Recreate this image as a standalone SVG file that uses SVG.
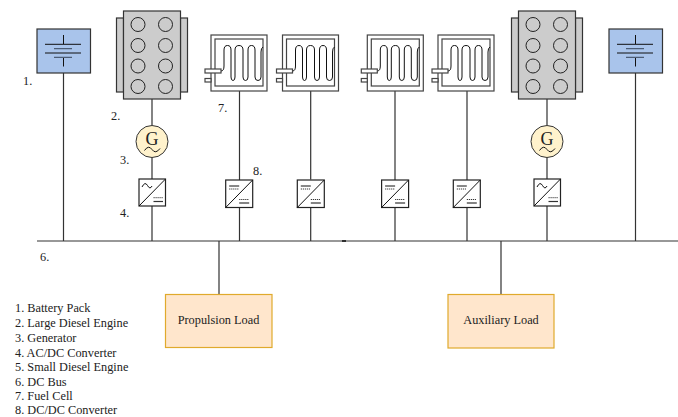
<svg xmlns="http://www.w3.org/2000/svg" width="678" height="417" viewBox="0 0 678 417">
<style>
text{font-family:"Liberation Serif","Times New Roman",serif;font-size:12.300px;fill:#222}
.c{text-anchor:middle}
.l{fill:none;stroke:#333;stroke-width:1.200}
.s{fill:none;stroke:#111;stroke-width:1}
.e{fill:#ccc;stroke:#333;stroke-width:1.200}
.h{fill:none;stroke:#222;stroke-width:1}
.b{fill:#a9c4eb;stroke:#333;stroke-width:1.200}
.g{fill:#fff2cc;stroke:#333;stroke-width:1}
.w{fill:#fff;stroke:#222;stroke-width:1.200}
.f{fill:#fff;stroke:#444;stroke-width:1.200}
.p{fill:#ffe6cc;stroke:#e0aa2c;stroke-width:1.200}
.d{fill:none;stroke:#333;stroke-width:1;stroke-dasharray:1.200 .8}
</style>
<defs>
<g id="battery">
<rect class="b" x="0" y="0" width="53.500" height="44"/>
<path class="s" d="M26.500 6V15M8 15.300H44M8 24H44M26.500 28.300V37.500"/>
<path d="M17 19.700H35M17 28.300H35" fill="none" stroke="#4d5d75" stroke-width="1.300"/>
</g>
<g id="engine">
<rect class="e" x="-7" y="7" width="7" height="74"/>
<rect class="e" x="57" y="7" width="7" height="74"/>
<rect class="e" x="0" y="0" width="57" height="88"/>
<circle class="h" cx="14.500" cy="13.500" r="7"/><circle class="h" cx="42" cy="13.500" r="7"/>
<circle class="h" cx="14.500" cy="34.500" r="7"/><circle class="h" cx="42" cy="34.500" r="7"/>
<circle class="h" cx="14.500" cy="55" r="7"/><circle class="h" cx="42" cy="55" r="7"/>
<circle class="h" cx="14.500" cy="75.500" r="7"/><circle class="h" cx="42" cy="75.500" r="7"/>
</g>
<g id="generator">
<circle class="g" cx="0" cy="0" r="16"/>
<text class="c" x="0" y="3.500" style="font-size:18px">G</text>
<path class="s" d="M-7.500 9Q-3.500 3 0 8T8 7"/>
</g>
<g id="acdc">
<rect class="w" x="0" y="0" width="26.500" height="27"/>
<path class="s" d="M0 27L26.500 0"/>
<path class="s" d="M3 8Q6 2 8.500 6.500T13 7"/>
<path class="d" d="M14.500 18.700H24"/>
<path class="l" d="M14.500 22.500H24"/>
</g>
<g id="dcdc">
<rect class="w" x="0" y="0" width="27" height="27.500"/>
<path class="s" d="M0 27.500L27 0"/>
<path class="s" d="M3.500 6H13.500"/>
<path class="d" d="M3.500 9H13.500"/>
<path class="d" d="M13.500 19.500H23.500"/>
<path class="l" d="M13.500 23H23.500"/>
</g>
<g id="fuelcell">
<rect class="f" x="0" y="0" width="56" height="56"/>
<rect class="f" x="4" y="4" width="48" height="47"/>
<path class="s" d="M10 36Q13 36 13 31V15Q13 10.500 16.500 10.500Q20 10.500 20 15V42Q20 45.500 22 45.500Q24 45.500 24 42V15Q24 10.500 28 10.500Q32 10.500 32 15V42Q32 45.500 34.500 45.500Q37 45.500 37 42V15Q37 10.500 40.500 10.500Q44 10.500 44 15V42Q44 45.500 47 45.500Q50 45.500 50 42V17Q50 13 52 12"/>
<rect class="f" x="-6" y="34" width="16" height="4"/>
<rect class="f" x="-6" y="43.500" width="6" height="3.500"/>
</g>
</defs>

<g id="connectors">
<path class="l" d="M37 241H678"/>
<path d="M342 241H346" fill="none" stroke="#222" stroke-width="1.800"/>
<path class="l" d="M63.500 73V241M152 99V125M152 157.500V179M152 206V241"/>
<path class="l" d="M239.500 91V180M239.500 207.500V241"/>
<path class="l" d="M310.700 91V179.500M310.700 207V241"/>
<path class="l" d="M395 91V180M395 207.500V241"/>
<path class="l" d="M467 91V180M467 207.500V241"/>
<path class="l" d="M547 99V125M547 157.500V179M547 206V241"/>
<path class="l" d="M635.500 73V241"/>
<path class="l" d="M219 241V294.500M501 241V294"/>
</g>

<g id="battery-1"><use href="#battery" x="37" y="29"/></g>
<g id="engine-1"><use href="#engine" x="123.500" y="11"/></g>
<g id="generator-1"><use href="#generator" x="152" y="141.500"/></g>
<g id="acdc-1"><use href="#acdc" x="139" y="179"/></g>
<g id="fuelcell-1"><use href="#fuelcell" x="211" y="35"/></g>
<g id="dcdc-1"><use href="#dcdc" x="225.700" y="180"/></g>
<g id="fuelcell-2"><use href="#fuelcell" x="282.500" y="35"/></g>
<g id="dcdc-2"><use href="#dcdc" x="297.300" y="180"/></g>
<g id="fuelcell-3"><use href="#fuelcell" x="367.300" y="35"/></g>
<g id="dcdc-3"><use href="#dcdc" x="381.600" y="180"/></g>
<g id="fuelcell-4"><use href="#fuelcell" x="438" y="35"/></g>
<g id="dcdc-4"><use href="#dcdc" x="453.300" y="180"/></g>
<g id="engine-2"><use href="#engine" x="518.500" y="11"/></g>
<g id="generator-2"><use href="#generator" x="547" y="141.500"/></g>
<g id="acdc-2"><use href="#acdc" x="534" y="179"/></g>
<g id="battery-2"><use href="#battery" x="609" y="29"/></g>

<g id="load-propulsion">
<rect class="p" x="165.500" y="294.500" width="106.500" height="53"/>
<text class="c" x="218.500" y="323.500">Propulsion Load</text>
</g>
<g id="load-auxiliary">
<rect class="p" x="448" y="294.500" width="106" height="53.500"/>
<text class="c" x="501" y="323.500">Auxiliary Load</text>
</g>

<g id="labels">
<text x="23" y="85">1.</text>
<text x="111" y="120">2.</text>
<text x="120" y="164">3.</text>
<text x="120" y="217">4.</text>
<text x="40" y="261">6.</text>
<text x="218" y="112">7.</text>
<text x="253" y="175">8.</text>
</g>
<g id="legend">
<text x="15" y="311.500">1. Battery Pack</text>
<text x="15" y="326.500">2. Large Diesel Engine</text>
<text x="15" y="341.500">3. Generator</text>
<text x="15" y="356.500">4. AC/DC Converter</text>
<text x="15" y="371">5. Small Diesel Engine</text>
<text x="15" y="385.500">6. DC Bus</text>
<text x="15" y="400">7. Fuel Cell</text>
<text x="15" y="414">8. DC/DC Converter</text>
</g>
</svg>
